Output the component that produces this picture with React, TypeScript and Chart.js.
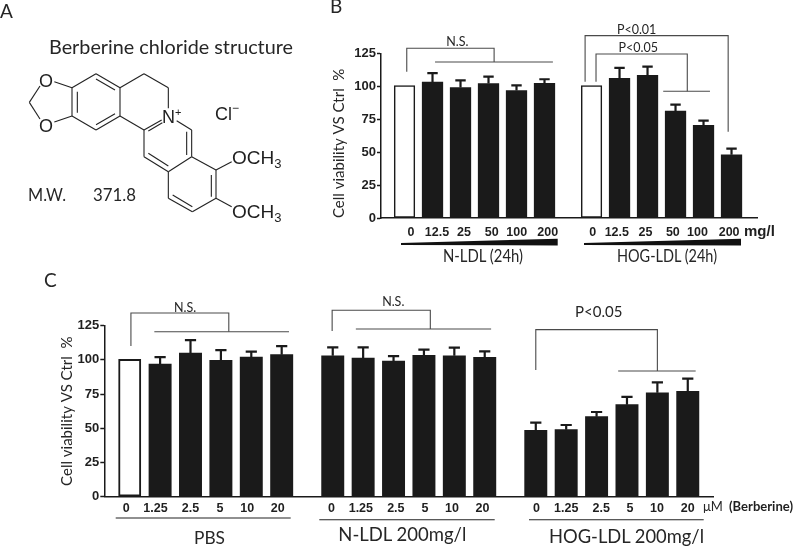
import React, { useEffect, useRef } from "react";
import { Chart, registerables } from "chart.js";

Chart.register(...registerables);

// ---- data ----
const doseLabelsB = ["0", "12.5", "25", "50", "100", "200"];
const nLdlValues = [100.5, 103.2, 99, 102, 96.7, 102.2];
const nLdlErrors = [0, 6.8, 5.5, 5.3, 4, 3.1];
const hogLdlValues = [100.5, 106, 108.3, 81.2, 70.3, 48];
const hogLdlErrors = [0, 7.9, 6.6, 4.8, 3.6, 4.6];

const doseLabelsC = ["0", "1.25", "2.5", "5", "10", "20"];
const pbsValues = [100.4, 97, 105, 99.7, 102.1, 103.8];
const pbsErrors = [0, 5.1, 9.5, 7.5, 3.9, 6.3];
const nLdl200Values = [103, 101.4, 99.2, 103.3, 103, 101.9];
const nLdl200Errors = [6.2, 7.8, 3.6, 4.2, 5.9, 4.3];
const hogLdl200Values = [48.5, 49, 58.5, 67.3, 76, 77];
const hogLdl200Errors = [5.6, 3.4, 3.4, 5.6, 7.6, 9.3];

const yTicks = [0, 25, 50, 75, 100, 125];
const yTitle = "Cell viability VS Ctrl  %";

// ---- annotations, in axis units (bar slot, percent) ----
type Anno = { lines: number[][][]; texts: { t: string; x: number; y: number; size: number }[] };
const annoB: Anno = {
  lines: [
    [[0.08, 111], [0.08, 128.8], [3.2, 128.8], [3.2, 118.4]],
    [[1.09, 118.4], [5.3, 118.4]],
    [[6.45, 103.4], [6.45, 138.4], [11.56, 138.4], [11.56, 65.5]],
    [[6.84, 103.4], [6.84, 124.5], [10.1, 124.5], [10.1, 96.2]],
    [[9.24, 96.2], [10.91, 96.2]],
  ],
  texts: [
    { t: "N.S.", x: 1.89, y: 133.8, size: 12.5 },
    { t: "P<0.01", x: 8.29, y: 142.7, size: 12.5 },
    { t: "P<0.05", x: 8.35, y: 128.8, size: 12.5 },
  ],
};
const annoC: Anno = {
  lines: [
    [[0.04, 110.2], [0.04, 134.3], [3.26, 134.3], [3.26, 120.6]],
    [[0.81, 120.6], [5.24, 120.6]],
    [[6.66, 121.1], [6.66, 136.3], [9.89, 136.3], [9.89, 122.6]],
    [[7.44, 122.6], [11.89, 122.6]],
    [[13.36, 92.6], [13.36, 122.1], [17.36, 122.1], [17.36, 91.9]],
    [[16.07, 91.9], [18.62, 91.9]],
  ],
  texts: [
    { t: "N.S.", x: 1.82, y: 138.2, size: 12.5 },
    { t: "N.S.", x: 8.67, y: 142.5, size: 12.5 },
    { t: "P<0.05", x: 15.43, y: 134.8, size: 15 },
  ],
};

// ---- layout constants ----
const GROUP_GAP = 6.68; // slots from one group start to the next
const INK = "#1a1a1a";
const LINE = "#4a4a4a";
const BODY_FONT = "Lato, 'Open Sans', sans-serif";
const NUM_FONT = "'Liberation Sans', Arial, sans-serif";

type Panel = {
  width: number;
  height: number;
  pad: { top: number; right: number };
  axisLeft: number;
  axisBottom: number;
  xMin: number;
  xMax: number;
  barWidth: number;
  slotPx: number;
  border: number;
  capHalf: number;
  tickPad: number;
  titleAlign: "start" | "center";
  titlePad: number;
  labels: string[];
  groups: number[][];
  errors: number[][];
  nudgePx: number[];
  whiteBars: number[];
  anno: Anno;
};

function PanelChart({ panel, style }: { panel: Panel; style: React.CSSProperties }) {
  const ref = useRef<HTMLCanvasElement>(null);
  useEffect(() => {
    const p = panel;
    const points: { x: number; y: number }[] = [];
    const errs: number[] = [];
    const tickVals: number[] = [];
    const tickText: string[] = [];
    p.groups.forEach((g, gi) =>
      g.forEach((v, i) => {
        const x = i + gi * GROUP_GAP;
        const k = points.length;
        points.push({ x, y: v });
        errs.push(p.errors[gi][i]);
        tickVals.push(x + p.nudgePx[k] / p.slotPx);
        tickText.push(p.labels[i]);
      })
    );
    const overlay = {
      id: "overlay",
      afterDatasetsDraw(chart: any) {
        const { ctx, scales } = chart;
        const sx = scales.x;
        const sy = scales.y;
        ctx.save();
        // error bars
        ctx.strokeStyle = INK;
        ctx.lineWidth = 2.2;
        points.forEach((pt, i) => {
          if (!errs[i]) return;
          const px = sx.getPixelForValue(pt.x);
          const y0 = sy.getPixelForValue(pt.y);
          const y1 = sy.getPixelForValue(pt.y + errs[i]);
          ctx.beginPath();
          ctx.moveTo(px, y0);
          ctx.lineTo(px, y1);
          ctx.moveTo(px - p.capHalf, y1);
          ctx.lineTo(px + p.capHalf, y1);
          ctx.stroke();
        });
        // brackets
        ctx.strokeStyle = LINE;
        ctx.lineWidth = 1.1;
        p.anno.lines.forEach((pl) => {
          ctx.beginPath();
          pl.forEach(([x, y], i) => {
            const px = sx.getPixelForValue(x);
            const py = sy.getPixelForValue(y);
            if (i === 0) ctx.moveTo(px, py);
            else ctx.lineTo(px, py);
          });
          ctx.stroke();
        });
        ctx.fillStyle = "#262626";
        ctx.textAlign = "center";
        ctx.textBaseline = "middle";
        p.anno.texts.forEach((t) => {
          ctx.font = `${t.size}px ${BODY_FONT}`;
          ctx.fillText(t.t, sx.getPixelForValue(t.x), sy.getPixelForValue(t.y));
        });
        ctx.restore();
      },
    };
    const chart = new Chart(ref.current as HTMLCanvasElement, {
      type: "bar",
      data: {
        datasets: [
          {
            data: points,
            barThickness: p.barWidth,
            backgroundColor: points.map((_, i) => (p.whiteBars.includes(i) ? "#ffffff" : INK)),
            borderColor: INK,
            borderWidth: points.map((_, i) => (p.whiteBars.includes(i) ? p.border : 0)),
            borderSkipped: false,
          },
        ],
      },
      options: {
        animation: false,
        responsive: false,
        maintainAspectRatio: false,
        layout: { padding: { left: 0, top: p.pad.top, right: p.pad.right, bottom: 0 } },
        plugins: { legend: { display: false }, tooltip: { enabled: false }, title: { display: false } },
        scales: {
          x: {
            type: "linear",
            offset: false,
            min: p.xMin,
            max: p.xMax,
            afterBuildTicks: (s: any) => {
              s.ticks = tickVals.map((value) => ({ value }));
            },
            afterFit: (s: any) => {
              s.height = p.axisBottom;
            },
            grid: { display: true, offset: false, drawOnChartArea: false, drawTicks: false },
            border: { color: INK, width: 1.5 },
            ticks: {
              autoSkip: false,
              maxRotation: 0,
              minRotation: 0,
              padding: p.tickPad,
              color: "#1f1f1f",
              font: { family: NUM_FONT, weight: "bold", size: 12.5 },
              callback: (_v: any, i: number) => tickText[i],
            },
          },
          y: {
            min: 0,
            max: 125,
            afterBuildTicks: (s: any) => {
              s.ticks = yTicks.map((value) => ({ value }));
            },
            afterFit: (s: any) => {
              s.width = p.axisLeft;
            },
            grid: { display: true, drawOnChartArea: false, drawTicks: true, tickLength: 4, tickColor: INK, tickWidth: 1.5 },
            border: { color: INK, width: 1.5 },
            ticks: {
              padding: 1,
              color: "#1f1f1f",
              font: { family: NUM_FONT, weight: "bold", size: 13 },
            },
            title: {
              display: true,
              text: yTitle,
              align: p.titleAlign,
              color: "#262626",
              font: { family: BODY_FONT, size: 15, weight: "normal" },
              padding: { top: p.titlePad, bottom: 0 },
            },
          },
        },
      } as any,
      plugins: [overlay],
    });
    return () => chart.destroy();
  }, [panel]);
  return (
    <canvas
      ref={ref}
      width={panel.width}
      height={panel.height}
      style={{ position: "absolute", display: "block", width: panel.width, height: panel.height, ...style }}
    />
  );
}

const panelB: Panel = {
  width: 475,
  height: 270,
  pad: { top: 53.3, right: 38 },
  axisLeft: 61,
  axisBottom: 52,
  xMin: -0.84,
  xMax: 12.59,
  barWidth: 20.6,
  slotPx: 28,
  border: 1.5,
  capHalf: 5.2,
  tickPad: 7,
  titleAlign: "start",
  titlePad: 10,
  labels: doseLabelsB,
  groups: [nLdlValues, hogLdlValues],
  errors: [nLdlErrors, hogLdlErrors],
  nudgePx: [6.5, 4.5, 3.5, 3.2, 0.2, 3.2, 1.3, -2.7, -2, -2.7, -6, -2.4],
  whiteBars: [0, 6],
  anno: annoB,
};

const panelC: Panel = {
  width: 755,
  height: 268,
  pad: { top: 45.7, right: 81.7 },
  axisLeft: 64.3,
  axisBottom: 51.3,
  xMin: -0.836,
  xMax: 19.2,
  barWidth: 22.3,
  slotPx: 30.4,
  border: 2,
  capHalf: 5.6,
  tickPad: 4,
  titleAlign: "center",
  titlePad: 18,
  labels: doseLabelsC,
  groups: [pbsValues, nLdl200Values, hogLdl200Values],
  errors: [pbsErrors, nLdl200Errors, hogLdl200Errors],
  nudgePx: [-3.4, -4.6, 0, -1, -4, -4, -1.4, -2.3, 2.3, 1, -2.3, -2.3, 0.6, 0, 4.7, 3, -0.3, 0],
  whiteBars: [0],
  anno: annoC,
};

const bonds: number[][] = [
  [216, 263, 288, 221], [288, 221, 360, 263], [360, 263, 360, 348], [360, 348, 288, 390], [288, 390, 216, 348], [216, 348, 216, 263],
  [232, 275, 232, 338], [288, 237, 345, 270], [288, 374, 345, 341],
  [216, 263, 163, 245], [216, 348, 163, 366], [120, 258, 88, 307], [88, 307, 120, 357],
  [360, 263, 432, 221], [432, 221, 505, 263], [505, 263, 505, 325], [360, 348, 432, 390],
  [432, 390, 485, 360], [445, 393, 487, 368], [432, 390, 432, 470], [432, 470, 505, 515], [445, 460, 505, 498],
  [505, 515, 575, 470], [575, 470, 575, 390], [560, 395, 560, 465], [575, 390, 530, 362],
  [505, 515, 505, 595], [505, 595, 577, 635], [518, 585, 577, 620], [577, 635, 648, 595], [648, 595, 648, 510],
  [634, 525, 634, 590], [648, 510, 575, 470], [648, 510, 695, 485], [648, 595, 695, 620],
];

function Decorations() {
  const body = { fontFamily: BODY_FONT, fill: "#262626" };
  const chem = { fontFamily: NUM_FONT, fill: "#1f1f1f" };
  return (
    <svg
      width={795}
      height={548}
      style={{ position: "absolute", left: 0, top: 0, display: "block", pointerEvents: "none" }}
    >
      <text x={0} y={18} fontSize={19} {...body}>A</text>
      <text x={330} y={13} fontSize={19} {...body}>B</text>
      <text x={44} y={287} fontSize={19} {...body}>C</text>
      <text x={49} y={54} fontSize={19} textLength={244} lengthAdjust="spacingAndGlyphs" {...body}>Berberine chloride structure</text>
      <text x={28} y={201} fontSize={16.5} textLength={38} lengthAdjust="spacingAndGlyphs" {...body}>M.W.</text>
      <text x={93} y={201} fontSize={16.5} textLength={43} lengthAdjust="spacingAndGlyphs" {...body}>371.8</text>
      <g stroke="#222222" strokeWidth={1.1} fill="none">
        {bonds.map((b, i) => (
          <line key={i} x1={b[0] / 3} y1={b[1] / 3} x2={b[2] / 3} y2={b[3] / 3} />
        ))}
      </g>
      <text x={39} y={86.5} fontSize={18} {...chem}>O</text>
      <text x={39} y={131.5} fontSize={18} {...chem}>O</text>
      <text x={162} y={123} fontSize={18} {...chem}>N</text>
      <text x={175} y={116} fontSize={11} {...chem}>+</text>
      <text x={215} y={120} fontSize={18} {...chem}>Cl</text>
      <text x={232} y={112} fontSize={12} {...chem}>−</text>
      <text x={232} y={164} fontSize={19} {...chem}>OCH<tspan fontSize={13} dy={4}>3</tspan></text>
      <text x={232} y={218} fontSize={19} {...chem}>OCH<tspan fontSize={13} dy={4}>3</tspan></text>

      <polygon points="401,243 557.7,238.7 557.7,245.5 401,245" fill="#111111" />
      <polygon points="584,243 741,238.7 741,245.5 584,245" fill="#111111" />
      <text x={443} y={262} fontSize={17} textLength={80} lengthAdjust="spacingAndGlyphs" {...body}>N-LDL (24h)</text>
      <text x={617} y={262} fontSize={17} textLength={100} lengthAdjust="spacingAndGlyphs" {...body}>HOG-LDL (24h)</text>
      <text x={744} y={236} fontSize={15} fontWeight="bold" fontFamily={NUM_FONT} fill="#1f1f1f">mg/l</text>

      <line x1={115.7} y1={518} x2={290.7} y2={518} stroke="#222222" strokeWidth={1.1} />
      <line x1={319.3} y1={519.7} x2={494.7} y2={519.7} stroke="#222222" strokeWidth={1.1} />
      <line x1={529} y1={519.7} x2={703.7} y2={519.7} stroke="#222222" strokeWidth={1.1} />
      <text x={194} y={544} fontSize={18} textLength={31} lengthAdjust="spacingAndGlyphs" {...body}>PBS</text>
      <text x={338.3} y={541} fontSize={19} textLength={128} lengthAdjust="spacingAndGlyphs" {...body}>N-LDL 200mg/l</text>
      <text x={549} y={543} fontSize={19} textLength={155} lengthAdjust="spacingAndGlyphs" {...body}>HOG-LDL 200mg/l</text>
      <text x={703} y={511} fontSize={13} {...body}>μM</text>
      <text x={729} y={511} fontSize={13} fontWeight="bold" textLength={64} lengthAdjust="spacingAndGlyphs" fontFamily={BODY_FONT} fill="#1f1f1f">(Berberine)</text>
    </svg>
  );
}

export default function App() {
  return (
    <div style={{ position: "absolute", left: 0, top: 0, width: 795, height: 548, overflow: "hidden", background: "#ffffff" }}>
      <PanelChart panel={panelB} style={{ left: 320, top: 0 }} />
      <PanelChart panel={panelC} style={{ left: 40, top: 280 }} />
      <Decorations />
    </div>
  );
}
